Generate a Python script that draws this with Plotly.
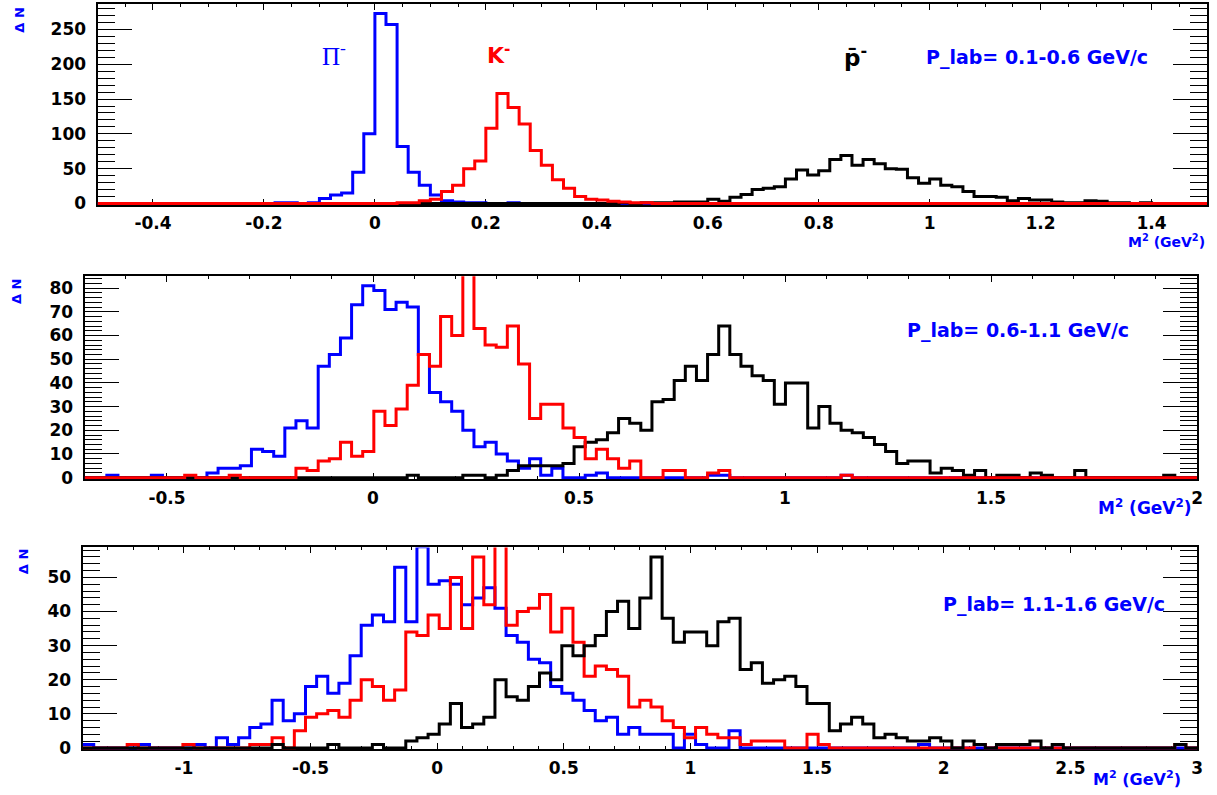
import plotly.graph_objects as go

# ---------------- data (bin contents, 100 bins per panel) ----------------
# Panel 1: M^2 from -0.5 to 1.5 GeV^2, P_lab = 0.1-0.6 GeV/c
p1_range = [-0.5, 1.5]
p1_pion = [0]*16 + [1, 1, 0, 1, 7, 12, 15, 45, 100, 273, 257, 82, 45, 26, 12, 4, 2, 1, 1, 0, 0, 1] + [0]*62
p1_kaon = [0]*27 + [1, 1, 4, 6, 17, 26, 50, 61, 108, 158, 138, 114, 76, 55, 34, 22, 10, 6, 5, 3, 2, 1, 1] + [0]*50
p1_pbar = [0]*47 + [1, 0, 1, 1, 1, 2, 2, 2, 6, 3,
                    9, 13, 20, 22, 24, 35, 48, 41, 47, 63,
                    69, 55, 63, 57, 50, 49, 37, 29, 35, 26,
                    24, 17, 10, 10, 9, 4, 7, 5, 5, 2,
                    1, 1, 4, 3, 1, 1, 0, 1] + [0]*5

# Panel 2: M^2 from -0.7 to 2.0 GeV^2, P_lab = 0.6-1.1 GeV/c
p2_range = [-0.7, 2.0]
p2_pion = [0, 0, 1, 0, 0, 0, 1, 0, 0, 0,
           0, 2, 4, 4, 5, 12, 11, 9, 21, 24,
           21, 47, 52, 59, 73, 81, 79, 71, 74, 72,
           52, 36, 32, 28, 20, 13, 15, 10, 7, 4,
           8, 1, 4, 0, 0, 1, 2, 0, 0, 0,
           0, 0, 0, 0, 0, 0, 1, 1, 0, 0,
           0, 0, 0, 0, 0, 0, 0, 0, 1, 0] + [0]*30
p2_kaon = [0, 0, 0, 0, 0, 0, 0, 0, 0, 1,
           0, 0, 0, 1, 0, 0, 0, 0, 0, 4,
           3, 7, 8, 15, 9, 11, 28, 22, 29, 39,
           52, 47, 68, 60, 92, 63, 56, 55, 64, 48,
           25, 31, 31, 21, 17, 8, 12, 8, 4, 7,
           0, 0, 3, 3, 0, 0, 2, 3, 0, 0,
           0, 0, 0, 0, 0, 0, 0, 0, 1, 0] + [0]*30
p2_pbar = [0]*29 + [1, 0, 0, 0, 0, 1, 1, 0, 1, 3,
                    5, 5, 5, 5, 6, 13, 15, 16, 19, 25,
                    23, 20, 32, 33, 41, 47, 41, 52, 64, 52,
                    47, 43, 41, 31, 40, 40, 21, 30, 23, 20,
                    19, 17, 14, 11, 6, 7, 7, 2, 4, 3,
                    1, 3, 0, 1, 1, 0, 2, 1, 0, 0,
                    3, 0, 0, 0, 0, 0, 0, 0, 1, 0, 0]

# Panel 3: M^2 from -1.4 to 3.0 GeV^2, P_lab = 1.1-1.6 GeV/c
p3_range = [-1.4, 3.0]
p3_pion = [1, 0, 0, 0, 0, 1, 0, 0, 0, 0,
           1, 0, 3, 1, 3, 6, 7, 14, 8, 10,
           18, 21, 16, 19, 27, 36, 39, 37, 53, 37,
           59, 48, 49, 48, 42, 44, 47, 41, 33, 31,
           26, 25, 18, 16, 14, 11, 8, 9, 4, 6,
           4, 4, 4, 0, 4, 1, 0, 0, 5, 0,
           0, 0, 0, 0, 0, 0, 0, 0, 0, 0,
           0, 0, 0, 0, 0, 1, 0, 0, 0, 0] + [0]*20
p3_kaon = [0, 0, 0, 0, 1, 0, 0, 0, 0, 1,
           0, 0, 0, 0, 0, 1, 1, 3, 0, 5,
           9, 10, 11, 9, 14, 20, 18, 14, 17, 34,
           33, 39, 35, 50, 35, 56, 42, 62, 36, 40,
           41, 45, 34, 41, 31, 21, 24, 23, 21, 12,
           14, 12, 8, 6, 3, 6, 4, 3, 3, 1,
           2, 2, 2, 0, 0, 4, 1, 0, 0, 0,
           0, 0, 0, 0, 0, 0, 0, 0, 0, 0,
           1, 0, 0, 0, 0, 0, 0, 0, 0, 0,
           0, 0, 0, 0, 0, 0, 0, 0, 1, 0]
p3_pbar = [0, 0, 0, 0, 0, 0, 0, 0, 0, 0,
           0, 0, 0, 0, 0, 0, 0, 1, 0, 0,
           0, 0, 1, 0, 0, 0, 1, 0, 0, 2,
           3, 4, 7, 13, 6, 7, 9, 20, 15, 14,
           18, 22, 20, 30, 27, 30, 33, 40, 43, 35,
           44, 56, 38, 31, 34, 34, 30, 37, 38, 23,
           25, 19, 20, 21, 18, 13, 13, 5, 7, 9,
           7, 3, 4, 3, 2, 2, 3, 2, 0, 2,
           1, 0, 1, 1, 1, 2, 0, 1, 0, 0,
           0, 0, 0, 0, 0, 0, 0, 0, 1, 0]

# tick labels
p1_xticks = [-0.4, -0.2, 0, 0.2, 0.4, 0.6, 0.8, 1, 1.2, 1.4]
p1_xtext = ["-0.4", "-0.2", "0", "0.2", "0.4", "0.6", "0.8", "1", "1.2", "1.4"]
p2_xticks = [-0.5, 0, 0.5, 1, 1.5, 2]
p2_xtext = ["-0.5", "0", "0.5", "1", "1.5", "2"]
p3_xticks = [-1, -0.5, 0, 0.5, 1, 1.5, 2, 2.5, 3]
p3_xtext = ["-1", "-0.5", "0", "0.5", "1", "1.5", "2", "2.5", "3"]
p1_yticks = [0, 50, 100, 150, 200, 250]
p2_yticks = [0, 10, 20, 30, 40, 50, 60, 70, 80]
p3_yticks = [0, 10, 20, 30, 40, 50]

labels_plab = ["P_lab= 0.1-0.6 GeV/c", "P_lab= 0.6-1.1 GeV/c", "P_lab= 1.1-1.6 GeV/c"]

# ---------------- figure ----------------
W, H = 1217, 795
BLUE, RED, BLACK = "#0000ff", "#ff0000", "#000000"
FONT = "DejaVu Sans"


def dom_x(a, b):
    return [a / W, b / W]


def dom_y(top, bottom):
    return [1 - bottom / H, 1 - top / H]


def edges(rng, n):
    w = (rng[1] - rng[0]) / n
    return [rng[0] + i * w for i in range(n + 1)]


fig = go.Figure()

panels = [
    dict(rng=p1_range, ymax=286.65, ylow=-2.1, order=[(p1_pion, BLUE), (p1_pbar, BLACK), (p1_kaon, RED)],
         xt=p1_xticks, xtt=p1_xtext, yt=p1_yticks, xminor=0.05, yminor=10,
         px=(98, 1213), py=(4, 207)),
    dict(rng=p2_range, ymax=85.05, ylow=-0.62, order=[(p2_pion, BLUE), (p2_pbar, BLACK), (p2_kaon, RED)],
         xt=p2_xticks, xtt=p2_xtext, yt=p2_yticks, xminor=0.1, yminor=2,
         px=(85, 1203), py=(279, 484)),
    dict(rng=p3_range, ymax=58.8, ylow=-0.43, order=[(p3_pion, BLUE), (p3_kaon, RED), (p3_pbar, BLACK)],
         xt=p3_xticks, xtt=p3_xtext, yt=p3_yticks, xminor=0.1, yminor=2,
         px=(83, 1203), py=(553, 757)),
]

layout_axes = {}
for idx, p in enumerate(panels, start=1):
    sfx = "" if idx == 1 else str(idx)
    xe = edges(p["rng"], 100)
    for vals, col in p["order"]:
        fig.add_trace(go.Scatter(
            x=xe, y=list(vals) + [vals[-1]], mode="lines", line=dict(color=col, width=3, shape="hv"),
            xaxis="x" + sfx, yaxis="y" + sfx, showlegend=False, hoverinfo="skip"))
    layout_axes["xaxis" + sfx] = dict(
        domain=dom_x(*p["px"]), anchor="y" + sfx, range=p["rng"],
        showline=True, linecolor="black", linewidth=2, mirror="ticks",
        ticks="inside", ticklen=6, tickwidth=1, tickcolor="black",
        tickmode="array", tickvals=p["xt"], ticktext=p["xtt"],
        minor=dict(ticks="inside", ticklen=3, tickwidth=1, tickcolor="black",
                   tickmode="linear", tick0=0, dtick=p["xminor"], showgrid=False),
        tickfont=dict(family=FONT, size=17, color="black", weight="bold"),
        ticklabelstandoff=2,
        showgrid=False, zeroline=False, layer="below traces")
    layout_axes["yaxis" + sfx] = dict(
        domain=dom_y(*p["py"]), anchor="x" + sfx, range=[p["ylow"], p["ymax"]],
        showline=True, linecolor="black", linewidth=2, mirror="ticks",
        ticks="inside", ticklen=34, tickwidth=1, tickcolor="black",
        tickmode="array", tickvals=p["yt"], ticktext=[str(v) for v in p["yt"]],
        minor=dict(ticks="inside", ticklen=17, tickwidth=1, tickcolor="black",
                   tickmode="linear", tick0=0, dtick=p["yminor"], showgrid=False),
        tickfont=dict(family=FONT, size=17, color="black", weight="bold"),
        ticklabelstandoff=6,
        showgrid=False, zeroline=False, layer="below traces")

fig.update_layout(**layout_axes)


def ann(text, x, y, size, color, family=FONT, weight="bold", xanchor="center", angle=0):
    fig.add_annotation(text=text, x=x / W, y=1 - y / H, xref="paper", yref="paper",
                       xanchor=xanchor, yanchor="middle", showarrow=False, textangle=angle,
                       font=dict(family=family, size=size, color=color, weight=weight))


# y titles
ann("\u0394 N", 20, 20, 13, BLUE, angle=-90)
ann("\u0394 N", 16, 294, 13, BLUE, angle=-90)
ann("\u0394 N", 23, 567, 13, BLUE, angle=-90)
# x titles
ann("M<sup>2</sup> (GeV<sup>2</sup>)", 1213, 243, 14, BLUE, xanchor="right")
ann("M<sup>2</sup> (GeV<sup>2</sup>)", 1200, 512, 17, BLUE, xanchor="right")
ann("M<sup>2</sup> (GeV<sup>2</sup>)", 1189, 786, 16, BLUE, xanchor="right")
# momentum ranges
ann(labels_plab[0], 1042, 58, 19, BLUE)
ann(labels_plab[1], 1023, 334, 19, BLUE)
ann(labels_plab[2], 1059, 611, 19, BLUE)
# particle labels
ann("\u03a0<sup>-</sup>", 336, 55, 25, BLUE, family="Liberation Serif", weight="normal")
ann("K<sup>-</sup>", 501, 55, 22, RED)
ann("p\u0304<sup>-</sup>", 860, 57, 23, BLACK)

fig.update_layout(width=W, height=H, margin=dict(l=0, r=0, t=0, b=0),
                  paper_bgcolor="white", plot_bgcolor="white", showlegend=False)

fig.write_html("out.html")
